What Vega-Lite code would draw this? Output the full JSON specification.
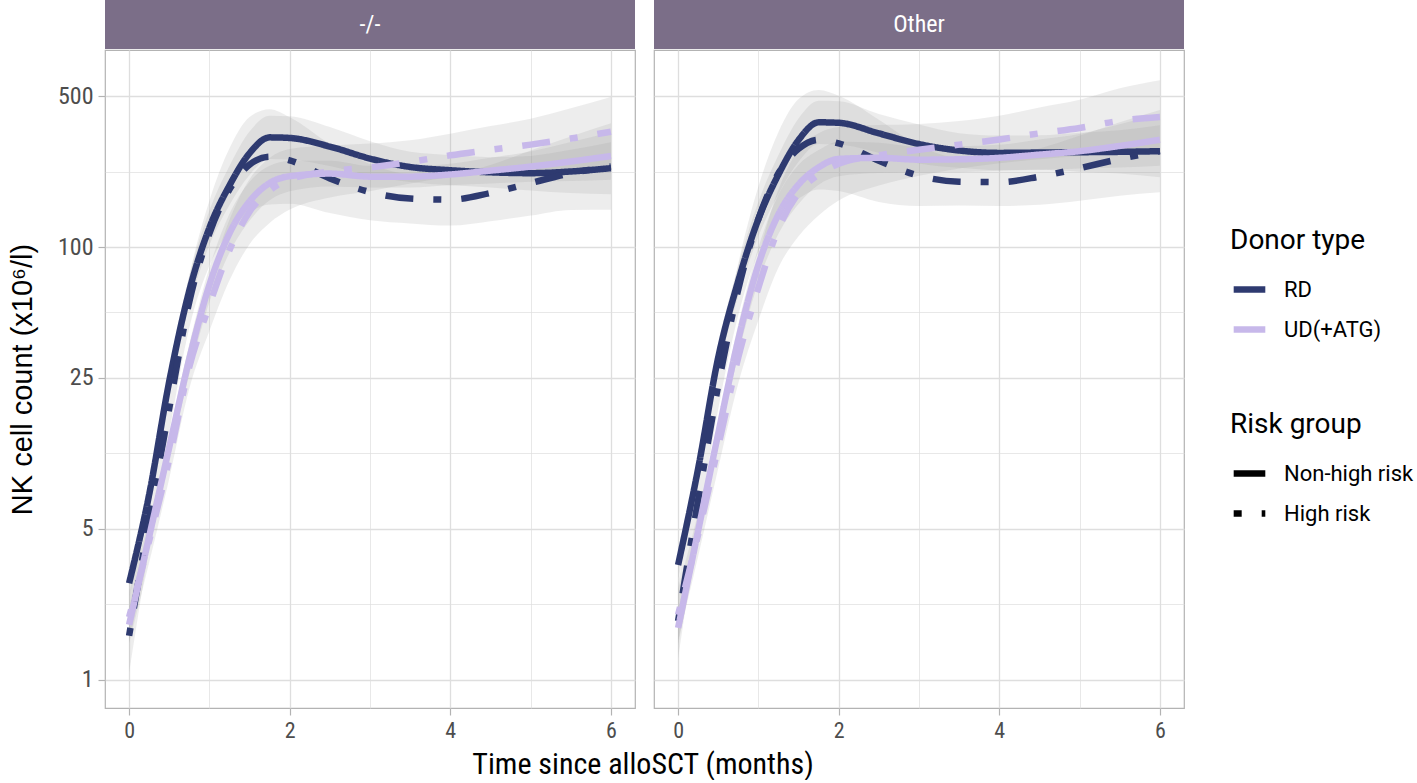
{
  "$schema": "https://vega.github.io/schema/vega-lite/v6.json",
  "background": "white",
  "padding": {"left": 7, "top": 0, "right": 0, "bottom": 0},
  "title": {
    "text": "Time since alloSCT (months)",
    "orient": "bottom",
    "anchor": "middle",
    "frame": "group",
    "dx": 538,
    "font": "Roboto Condensed, Roboto",
    "fontSize": 30,
    "fontWeight": "normal",
    "color": "black",
    "offset": 8
  },
  "datasets": {
    "nk": [
      {"panel": "-/-", "donor": "RD", "risk": "Non-high risk", "t": 0, "y": 2.8, "lo": 2.38, "hi": 3.29},
      {"panel": "-/-", "donor": "RD", "risk": "Non-high risk", "t": 0.25, "y": 7.2, "lo": 6.27, "hi": 8.27},
      {"panel": "-/-", "donor": "RD", "risk": "Non-high risk", "t": 0.5, "y": 24, "lo": 20.9, "hi": 27.6},
      {"panel": "-/-", "donor": "RD", "risk": "Non-high risk", "t": 0.75, "y": 63, "lo": 53.6, "hi": 74},
      {"panel": "-/-", "donor": "RD", "risk": "Non-high risk", "t": 1, "y": 123, "lo": 102.3, "hi": 147.8},
      {"panel": "-/-", "donor": "RD", "risk": "Non-high risk", "t": 1.25, "y": 193, "lo": 156.9, "hi": 237.4},
      {"panel": "-/-", "donor": "RD", "risk": "Non-high risk", "t": 1.5, "y": 272, "lo": 216, "hi": 342.4},
      {"panel": "-/-", "donor": "RD", "risk": "Non-high risk", "t": 1.75, "y": 322, "lo": 255.8, "hi": 405.4},
      {"panel": "-/-", "donor": "RD", "risk": "Non-high risk", "t": 2, "y": 320, "lo": 254.2, "hi": 402.9},
      {"panel": "-/-", "donor": "RD", "risk": "Non-high risk", "t": 2.5, "y": 292, "lo": 237.4, "hi": 359.2},
      {"panel": "-/-", "donor": "RD", "risk": "Non-high risk", "t": 3, "y": 257, "lo": 213.8, "hi": 308.9},
      {"panel": "-/-", "donor": "RD", "risk": "Non-high risk", "t": 3.5, "y": 235, "lo": 200, "hi": 276.1},
      {"panel": "-/-", "donor": "RD", "risk": "Non-high risk", "t": 4, "y": 227, "lo": 193.2, "hi": 266.7},
      {"panel": "-/-", "donor": "RD", "risk": "Non-high risk", "t": 4.5, "y": 222, "lo": 188.9, "hi": 260.9},
      {"panel": "-/-", "donor": "RD", "risk": "Non-high risk", "t": 5, "y": 220, "lo": 183, "hi": 264.4},
      {"panel": "-/-", "donor": "RD", "risk": "Non-high risk", "t": 5.5, "y": 224, "lo": 177.9, "hi": 282},
      {"panel": "-/-", "donor": "RD", "risk": "Non-high risk", "t": 6, "y": 232, "lo": 176, "hi": 305.8},

      {"panel": "-/-", "donor": "RD", "risk": "High risk", "t": 0, "y": 1.6, "lo": 1.08, "hi": 2.37},
      {"panel": "-/-", "donor": "RD", "risk": "High risk", "t": 0.25, "y": 5.5, "lo": 4.08, "hi": 7.42},
      {"panel": "-/-", "donor": "RD", "risk": "High risk", "t": 0.5, "y": 18, "lo": 13.98, "hi": 23.2},
      {"panel": "-/-", "donor": "RD", "risk": "High risk", "t": 0.75, "y": 56, "lo": 42.5, "hi": 73.8},
      {"panel": "-/-", "donor": "RD", "risk": "High risk", "t": 1, "y": 116, "lo": 82.1, "hi": 163.9},
      {"panel": "-/-", "donor": "RD", "risk": "High risk", "t": 1.25, "y": 185, "lo": 119.4, "hi": 286.6},
      {"panel": "-/-", "donor": "RD", "risk": "High risk", "t": 1.5, "y": 241, "lo": 145.2, "hi": 400.1},
      {"panel": "-/-", "donor": "RD", "risk": "High risk", "t": 1.75, "y": 262, "lo": 157.8, "hi": 434.9},
      {"panel": "-/-", "donor": "RD", "risk": "High risk", "t": 2, "y": 252, "lo": 159, "hi": 399.4},
      {"panel": "-/-", "donor": "RD", "risk": "High risk", "t": 2.5, "y": 208, "lo": 143.9, "hi": 300.6},
      {"panel": "-/-", "donor": "RD", "risk": "High risk", "t": 3, "y": 180, "lo": 133.4, "hi": 242.8},
      {"panel": "-/-", "donor": "RD", "risk": "High risk", "t": 3.5, "y": 168, "lo": 128.9, "hi": 218.9},
      {"panel": "-/-", "donor": "RD", "risk": "High risk", "t": 4, "y": 166, "lo": 125.9, "hi": 218.8},
      {"panel": "-/-", "donor": "RD", "risk": "High risk", "t": 4.5, "y": 178, "lo": 131.9, "hi": 240.1},
      {"panel": "-/-", "donor": "RD", "risk": "High risk", "t": 5, "y": 198, "lo": 140.1, "hi": 279.8},
      {"panel": "-/-", "donor": "RD", "risk": "High risk", "t": 5.5, "y": 220, "lo": 148.8, "hi": 325.4},
      {"panel": "-/-", "donor": "RD", "risk": "High risk", "t": 6, "y": 236, "lo": 148.9, "hi": 374.1},

      {"panel": "-/-", "donor": "UD(+ATG)", "risk": "Non-high risk", "t": 0, "y": 1.8, "lo": 1.5, "hi": 2.16},
      {"panel": "-/-", "donor": "UD(+ATG)", "risk": "Non-high risk", "t": 0.25, "y": 4.6, "lo": 4.01, "hi": 5.28},
      {"panel": "-/-", "donor": "UD(+ATG)", "risk": "Non-high risk", "t": 0.5, "y": 11.9, "lo": 10.37, "hi": 13.66},
      {"panel": "-/-", "donor": "UD(+ATG)", "risk": "Non-high risk", "t": 0.75, "y": 30.5, "lo": 25.96, "hi": 35.84},
      {"panel": "-/-", "donor": "UD(+ATG)", "risk": "Non-high risk", "t": 1, "y": 67, "lo": 55.7, "hi": 80.5},
      {"panel": "-/-", "donor": "UD(+ATG)", "risk": "Non-high risk", "t": 1.25, "y": 116, "lo": 94.3, "hi": 142.7},
      {"panel": "-/-", "donor": "UD(+ATG)", "risk": "Non-high risk", "t": 1.5, "y": 163, "lo": 132.5, "hi": 200.5},
      {"panel": "-/-", "donor": "UD(+ATG)", "risk": "Non-high risk", "t": 1.75, "y": 198, "lo": 164.7, "hi": 238},
      {"panel": "-/-", "donor": "UD(+ATG)", "risk": "Non-high risk", "t": 2, "y": 213, "lo": 181.3, "hi": 250.3},
      {"panel": "-/-", "donor": "UD(+ATG)", "risk": "Non-high risk", "t": 2.5, "y": 219, "lo": 190.8, "hi": 251.4},
      {"panel": "-/-", "donor": "UD(+ATG)", "risk": "Non-high risk", "t": 3, "y": 212, "lo": 188.9, "hi": 237.9},
      {"panel": "-/-", "donor": "UD(+ATG)", "risk": "Non-high risk", "t": 3.5, "y": 212, "lo": 188.9, "hi": 237.9},
      {"panel": "-/-", "donor": "UD(+ATG)", "risk": "Non-high risk", "t": 4, "y": 217, "lo": 193.4, "hi": 243.5},
      {"panel": "-/-", "donor": "UD(+ATG)", "risk": "Non-high risk", "t": 4.5, "y": 226, "lo": 196.9, "hi": 259.4},
      {"panel": "-/-", "donor": "UD(+ATG)", "risk": "Non-high risk", "t": 5, "y": 236, "lo": 200.9, "hi": 277.3},
      {"panel": "-/-", "donor": "UD(+ATG)", "risk": "Non-high risk", "t": 5.5, "y": 249, "lo": 202.4, "hi": 306.3},
      {"panel": "-/-", "donor": "UD(+ATG)", "risk": "Non-high risk", "t": 6, "y": 264, "lo": 205, "hi": 340},

      {"panel": "-/-", "donor": "UD(+ATG)", "risk": "High risk", "t": 0, "y": 1.95, "lo": 1.48, "hi": 2.57},
      {"panel": "-/-", "donor": "UD(+ATG)", "risk": "High risk", "t": 0.25, "y": 4.4, "lo": 3.49, "hi": 5.54},
      {"panel": "-/-", "donor": "UD(+ATG)", "risk": "High risk", "t": 0.5, "y": 10.5, "lo": 8.54, "hi": 12.92},
      {"panel": "-/-", "donor": "UD(+ATG)", "risk": "High risk", "t": 0.75, "y": 28, "lo": 22.24, "hi": 35.25},
      {"panel": "-/-", "donor": "UD(+ATG)", "risk": "High risk", "t": 1, "y": 54, "lo": 40.97, "hi": 71.17},
      {"panel": "-/-", "donor": "UD(+ATG)", "risk": "High risk", "t": 1.25, "y": 97, "lo": 70.3, "hi": 133.9},
      {"panel": "-/-", "donor": "UD(+ATG)", "risk": "High risk", "t": 1.5, "y": 146, "lo": 103.3, "hi": 206.3},
      {"panel": "-/-", "donor": "UD(+ATG)", "risk": "High risk", "t": 1.75, "y": 183, "lo": 129.5, "hi": 258.6},
      {"panel": "-/-", "donor": "UD(+ATG)", "risk": "High risk", "t": 2, "y": 206, "lo": 149.3, "hi": 284.3},
      {"panel": "-/-", "donor": "UD(+ATG)", "risk": "High risk", "t": 2.5, "y": 224, "lo": 170, "hi": 295.2},
      {"panel": "-/-", "donor": "UD(+ATG)", "risk": "High risk", "t": 3, "y": 234, "lo": 181.7, "hi": 301.4},
      {"panel": "-/-", "donor": "UD(+ATG)", "risk": "High risk", "t": 3.5, "y": 248, "lo": 197, "hi": 312.2},
      {"panel": "-/-", "donor": "UD(+ATG)", "risk": "High risk", "t": 4, "y": 266, "lo": 211.3, "hi": 334.9},
      {"panel": "-/-", "donor": "UD(+ATG)", "risk": "High risk", "t": 4.5, "y": 282, "lo": 218.9, "hi": 363.2},
      {"panel": "-/-", "donor": "UD(+ATG)", "risk": "High risk", "t": 5, "y": 298, "lo": 226.1, "hi": 392.8},
      {"panel": "-/-", "donor": "UD(+ATG)", "risk": "High risk", "t": 5.5, "y": 318, "lo": 230.4, "hi": 438.8},
      {"panel": "-/-", "donor": "UD(+ATG)", "risk": "High risk", "t": 6, "y": 342, "lo": 236.7, "hi": 494.2},

      {"panel": "Other", "donor": "RD", "risk": "Non-high risk", "t": 0, "y": 3.4, "lo": 2.89, "hi": 4},
      {"panel": "Other", "donor": "RD", "risk": "Non-high risk", "t": 0.25, "y": 9.5, "lo": 8.28, "hi": 10.91},
      {"panel": "Other", "donor": "RD", "risk": "Non-high risk", "t": 0.5, "y": 31, "lo": 27, "hi": 35.6},
      {"panel": "Other", "donor": "RD", "risk": "Non-high risk", "t": 0.75, "y": 70, "lo": 59.6, "hi": 82.3},
      {"panel": "Other", "donor": "RD", "risk": "Non-high risk", "t": 1, "y": 135, "lo": 112.3, "hi": 162.3},
      {"panel": "Other", "donor": "RD", "risk": "Non-high risk", "t": 1.25, "y": 217, "lo": 176.4, "hi": 266.9},
      {"panel": "Other", "donor": "RD", "risk": "Non-high risk", "t": 1.5, "y": 313, "lo": 248.6, "hi": 394.1},
      {"panel": "Other", "donor": "RD", "risk": "Non-high risk", "t": 1.75, "y": 378, "lo": 300.2, "hi": 475.9},
      {"panel": "Other", "donor": "RD", "risk": "Non-high risk", "t": 2, "y": 376, "lo": 298.6, "hi": 473.4},
      {"panel": "Other", "donor": "RD", "risk": "Non-high risk", "t": 2.5, "y": 336, "lo": 273.2, "hi": 413.3},
      {"panel": "Other", "donor": "RD", "risk": "Non-high risk", "t": 3, "y": 300, "lo": 243.9, "hi": 369},
      {"panel": "Other", "donor": "RD", "risk": "Non-high risk", "t": 3.5, "y": 280, "lo": 232.9, "hi": 336.6},
      {"panel": "Other", "donor": "RD", "risk": "Non-high risk", "t": 4, "y": 273, "lo": 227.1, "hi": 328.1},
      {"panel": "Other", "donor": "RD", "risk": "Non-high risk", "t": 4.5, "y": 274, "lo": 228, "hi": 329.3},
      {"panel": "Other", "donor": "RD", "risk": "Non-high risk", "t": 5, "y": 275, "lo": 223.6, "hi": 338.3},
      {"panel": "Other", "donor": "RD", "risk": "Non-high risk", "t": 5.5, "y": 276, "lo": 219.2, "hi": 347.5},
      {"panel": "Other", "donor": "RD", "risk": "Non-high risk", "t": 6, "y": 278, "lo": 210.9, "hi": 366.4},

      {"panel": "Other", "donor": "RD", "risk": "High risk", "t": 0, "y": 1.87, "lo": 1.26, "hi": 2.77},
      {"panel": "Other", "donor": "RD", "risk": "High risk", "t": 0.25, "y": 6.8, "lo": 5.04, "hi": 9.17},
      {"panel": "Other", "donor": "RD", "risk": "High risk", "t": 0.5, "y": 23, "lo": 17.86, "hi": 29.62},
      {"panel": "Other", "donor": "RD", "risk": "High risk", "t": 0.75, "y": 64, "lo": 48.6, "hi": 84.4},
      {"panel": "Other", "donor": "RD", "risk": "High risk", "t": 1, "y": 135, "lo": 95.5, "hi": 190.8},
      {"panel": "Other", "donor": "RD", "risk": "High risk", "t": 1.25, "y": 220, "lo": 142, "hi": 340.8},
      {"panel": "Other", "donor": "RD", "risk": "High risk", "t": 1.5, "y": 285, "lo": 167.8, "hi": 483.9},
      {"panel": "Other", "donor": "RD", "risk": "High risk", "t": 1.75, "y": 314, "lo": 184.9, "hi": 533.2},
      {"panel": "Other", "donor": "RD", "risk": "High risk", "t": 2, "y": 302, "lo": 181.9, "hi": 501.3},
      {"panel": "Other", "donor": "RD", "risk": "High risk", "t": 2.5, "y": 251, "lo": 162, "hi": 388.8},
      {"panel": "Other", "donor": "RD", "risk": "High risk", "t": 3, "y": 214, "lo": 155.1, "hi": 295.3},
      {"panel": "Other", "donor": "RD", "risk": "High risk", "t": 3.5, "y": 201, "lo": 156.1, "hi": 258.9},
      {"panel": "Other", "donor": "RD", "risk": "High risk", "t": 4, "y": 200, "lo": 155.3, "hi": 257.6},
      {"panel": "Other", "donor": "RD", "risk": "High risk", "t": 4.5, "y": 212, "lo": 157.2, "hi": 286},
      {"panel": "Other", "donor": "RD", "risk": "High risk", "t": 5, "y": 232, "lo": 164.2, "hi": 327.8},
      {"panel": "Other", "donor": "RD", "risk": "High risk", "t": 5.5, "y": 256, "lo": 173.1, "hi": 378.6},
      {"panel": "Other", "donor": "RD", "risk": "High risk", "t": 6, "y": 278, "lo": 179.5, "hi": 430.6},

      {"panel": "Other", "donor": "UD(+ATG)", "risk": "Non-high risk", "t": 0, "y": 1.74, "lo": 1.45, "hi": 2.09},
      {"panel": "Other", "donor": "UD(+ATG)", "risk": "Non-high risk", "t": 0.25, "y": 4.9, "lo": 4.27, "hi": 5.63},
      {"panel": "Other", "donor": "UD(+ATG)", "risk": "Non-high risk", "t": 0.5, "y": 13.8, "lo": 12.02, "hi": 15.84},
      {"panel": "Other", "donor": "UD(+ATG)", "risk": "Non-high risk", "t": 0.75, "y": 37.5, "lo": 31.9, "hi": 44.1},
      {"panel": "Other", "donor": "UD(+ATG)", "risk": "Non-high risk", "t": 1, "y": 83, "lo": 69.1, "hi": 99.8},
      {"panel": "Other", "donor": "UD(+ATG)", "risk": "Non-high risk", "t": 1.25, "y": 142, "lo": 115.4, "hi": 174.7},
      {"panel": "Other", "donor": "UD(+ATG)", "risk": "Non-high risk", "t": 1.5, "y": 195, "lo": 158.5, "hi": 239.9},
      {"panel": "Other", "donor": "UD(+ATG)", "risk": "Non-high risk", "t": 1.75, "y": 234, "lo": 194.7, "hi": 281.3},
      {"panel": "Other", "donor": "UD(+ATG)", "risk": "Non-high risk", "t": 2, "y": 256, "lo": 213, "hi": 307.7},
      {"panel": "Other", "donor": "UD(+ATG)", "risk": "Non-high risk", "t": 2.5, "y": 259, "lo": 220.4, "hi": 304.3},
      {"panel": "Other", "donor": "UD(+ATG)", "risk": "Non-high risk", "t": 3, "y": 254, "lo": 221.3, "hi": 291.6},
      {"panel": "Other", "donor": "UD(+ATG)", "risk": "Non-high risk", "t": 3.5, "y": 255, "lo": 222.1, "hi": 292.7},
      {"panel": "Other", "donor": "UD(+ATG)", "risk": "Non-high risk", "t": 4, "y": 259, "lo": 225.6, "hi": 297.3},
      {"panel": "Other", "donor": "UD(+ATG)", "risk": "Non-high risk", "t": 4.5, "y": 268, "lo": 228.1, "hi": 314.9},
      {"panel": "Other", "donor": "UD(+ATG)", "risk": "Non-high risk", "t": 5, "y": 278, "lo": 231.3, "hi": 334.2},
      {"panel": "Other", "donor": "UD(+ATG)", "risk": "Non-high risk", "t": 5.5, "y": 294, "lo": 233.5, "hi": 370.1},
      {"panel": "Other", "donor": "UD(+ATG)", "risk": "Non-high risk", "t": 6, "y": 314, "lo": 238.2, "hi": 413.9},

      {"panel": "Other", "donor": "UD(+ATG)", "risk": "High risk", "t": 0, "y": 2, "lo": 1.52, "hi": 2.64},
      {"panel": "Other", "donor": "UD(+ATG)", "risk": "High risk", "t": 0.25, "y": 4.7, "lo": 3.73, "hi": 5.92},
      {"panel": "Other", "donor": "UD(+ATG)", "risk": "High risk", "t": 0.5, "y": 12, "lo": 9.53, "hi": 15.11},
      {"panel": "Other", "donor": "UD(+ATG)", "risk": "High risk", "t": 0.75, "y": 31, "lo": 23.5, "hi": 40.9},
      {"panel": "Other", "donor": "UD(+ATG)", "risk": "High risk", "t": 1, "y": 65, "lo": 46, "hi": 91.8},
      {"panel": "Other", "donor": "UD(+ATG)", "risk": "High risk", "t": 1.25, "y": 122, "lo": 80.6, "hi": 184.7},
      {"panel": "Other", "donor": "UD(+ATG)", "risk": "High risk", "t": 1.5, "y": 178, "lo": 112.3, "hi": 282.1},
      {"panel": "Other", "donor": "UD(+ATG)", "risk": "High risk", "t": 1.75, "y": 217, "lo": 140.1, "hi": 336.1},
      {"panel": "Other", "donor": "UD(+ATG)", "risk": "High risk", "t": 2, "y": 243, "lo": 164.3, "hi": 359.4},
      {"panel": "Other", "donor": "UD(+ATG)", "risk": "High risk", "t": 2.5, "y": 266, "lo": 192.8, "hi": 367.1},
      {"panel": "Other", "donor": "UD(+ATG)", "risk": "High risk", "t": 3, "y": 282, "lo": 214, "hi": 371.7},
      {"panel": "Other", "donor": "UD(+ATG)", "risk": "High risk", "t": 3.5, "y": 298, "lo": 231.4, "hi": 383.8},
      {"panel": "Other", "donor": "UD(+ATG)", "risk": "High risk", "t": 4, "y": 315, "lo": 244.6, "hi": 405.7},
      {"panel": "Other", "donor": "UD(+ATG)", "risk": "High risk", "t": 4.5, "y": 336, "lo": 254.9, "hi": 442.8},
      {"panel": "Other", "donor": "UD(+ATG)", "risk": "High risk", "t": 5, "y": 356, "lo": 263.9, "hi": 480.2},
      {"panel": "Other", "donor": "UD(+ATG)", "risk": "High risk", "t": 5.5, "y": 384, "lo": 271.8, "hi": 542.6},
      {"panel": "Other", "donor": "UD(+ATG)", "risk": "High risk", "t": 6, "y": 400, "lo": 270.5, "hi": 591.6}
    ]
  },
  "spacing": 17,
  "hconcat": [
    {
      "spacing": 0,
      "vconcat": [
        {
          "width": 530,
          "height": 49,
          "view": {"fill": "#7B6E88", "stroke": null},
          "data": {"values": [{"panel": "-/-"}]},
          "mark": {"type": "text", "color": "white", "font": "Roboto Condensed, Roboto", "fontSize": 24},
          "encoding": {"text": {"field": "panel"}}
        },
        {
          "width": 530,
          "height": 658,
          "data": {"name": "nk"},
          "transform": [{"filter": "datum.panel == '-/-'"}],
          "encoding": {
            "x": {
              "field": "t",
              "type": "quantitative",
              "scale": {"domain": [-0.3, 6.3], "nice": false, "zero": false},
              "axis": {
                "title": null,
                "values": [0, 1, 2, 3, 4, 5, 6],
                "labelExpr": "datum.value % 2 == 0 ? datum.label : ''",
                "tickOpacity": {"condition": {"test": "datum.value % 2 == 1", "value": 0}, "value": 1},
                "gridWidth": {"condition": {"test": "datum.value % 2 == 1", "value": 0.7}, "value": 1.3}
              }
            }
          },
          "layer": [
            {
              "mark": {"type": "area", "color": "#999999", "opacity": 0.18, "interpolate": "monotone"},
              "encoding": {
                "y": {
                  "field": "lo",
                  "type": "quantitative",
                  "scale": {"type": "log", "domain": [0.742, 816], "nice": false, "zero": false},
                  "axis": {
                    "title": "NK cell count (x10⁶/l)",
                    "titleFont": "Liberation Sans, Arial, sans-serif",
                    "titleFontSize": 29,
                    "titlePadding": 20,
                    "values": [1, 2.2360679775, 5, 11.1803398875, 25, 50, 100, 223.60679775, 500],
                    "labelExpr": "indexof([1, 5, 25, 100, 500], datum.value) >= 0 ? format(datum.value, 'd') : ''",
                    "tickOpacity": {"condition": {"test": "indexof([1, 5, 25, 100, 500], datum.value) < 0", "value": 0}, "value": 1},
                    "gridWidth": {"condition": {"test": "indexof([1, 5, 25, 100, 500], datum.value) < 0", "value": 0.7}, "value": 1.3}
                  }
                },
                "y2": {"field": "hi"},
                "detail": [{"field": "donor"}, {"field": "risk"}]
              }
            },
            {
              "mark": {"type": "line", "strokeWidth": 6.5, "strokeCap": "butt", "interpolate": "monotone"},
              "encoding": {
                "y": {"field": "y", "type": "quantitative"},
                "color": {
                  "field": "donor",
                  "type": "nominal",
                  "scale": {"domain": ["RD", "UD(+ATG)"], "range": ["#2E3A70", "#C7B8EA"]},
                  "legend": {"title": "Donor type", "orient": "none", "legendX": 1125, "legendY": 227}
                },
                "strokeDash": {
                  "field": "risk",
                  "type": "nominal",
                  "scale": {"domain": ["Non-high risk", "High risk"], "range": [[1, 0], [8, 20, 28, 20]]},
                  "legend": {"title": "Risk group", "orient": "none", "legendX": 1125, "legendY": 411, "symbolStrokeColor": "black"}
                }
              }
            }
          ]
        }
      ]
    },
    {
      "spacing": 0,
      "vconcat": [
        {
          "width": 530,
          "height": 49,
          "view": {"fill": "#7B6E88", "stroke": null},
          "data": {"values": [{"panel": "Other"}]},
          "mark": {"type": "text", "color": "white", "font": "Roboto Condensed, Roboto", "fontSize": 24},
          "encoding": {"text": {"field": "panel"}}
        },
        {
          "width": 530,
          "height": 658,
          "data": {"name": "nk"},
          "transform": [{"filter": "datum.panel == 'Other'"}],
          "encoding": {
            "x": {
              "field": "t",
              "type": "quantitative",
              "scale": {"domain": [-0.3, 6.3], "nice": false, "zero": false},
              "axis": {
                "title": null,
                "values": [0, 1, 2, 3, 4, 5, 6],
                "labelExpr": "datum.value % 2 == 0 ? datum.label : ''",
                "tickOpacity": {"condition": {"test": "datum.value % 2 == 1", "value": 0}, "value": 1},
                "gridWidth": {"condition": {"test": "datum.value % 2 == 1", "value": 0.7}, "value": 1.3}
              }
            }
          },
          "layer": [
            {
              "mark": {"type": "area", "color": "#999999", "opacity": 0.18, "interpolate": "monotone"},
              "encoding": {
                "y": {
                  "field": "lo",
                  "type": "quantitative",
                  "scale": {"type": "log", "domain": [0.742, 816], "nice": false, "zero": false},
                  "axis": {
                    "title": null,
                    "labels": false,
                    "ticks": false,
                    "values": [1, 2.2360679775, 5, 11.1803398875, 25, 50, 100, 223.60679775, 500],
                    "gridWidth": {"condition": {"test": "indexof([1, 5, 25, 100, 500], datum.value) < 0", "value": 0.7}, "value": 1.3}
                  }
                },
                "y2": {"field": "hi"},
                "detail": [{"field": "donor"}, {"field": "risk"}]
              }
            },
            {
              "mark": {"type": "line", "strokeWidth": 6.5, "strokeCap": "butt", "interpolate": "monotone"},
              "encoding": {
                "y": {"field": "y", "type": "quantitative"},
                "color": {
                  "field": "donor",
                  "type": "nominal",
                  "scale": {"domain": ["RD", "UD(+ATG)"], "range": ["#2E3A70", "#C7B8EA"]},
                  "legend": {"title": "Donor type", "orient": "none", "legendX": 1125, "legendY": 227}
                },
                "strokeDash": {
                  "field": "risk",
                  "type": "nominal",
                  "scale": {"domain": ["Non-high risk", "High risk"], "range": [[1, 0], [8, 20, 28, 20]]},
                  "legend": {"title": "Risk group", "orient": "none", "legendX": 1125, "legendY": 411, "symbolStrokeColor": "black"}
                }
              }
            }
          ]
        }
      ]
    }
  ],
  "config": {
    "font": "Roboto",
    "view": {"stroke": "#B3B3B3", "strokeWidth": 1.2},
    "axis": {
      "domain": false,
      "grid": true,
      "gridColor": "#DEDEDE",
      "tickColor": "#B3B3B3",
      "tickSize": 7,
      "tickWidth": 1.2,
      "labelColor": "#4D4D4D",
      "labelFont": "Roboto Condensed, Roboto",
      "labelFontSize": 24,
      "labelPadding": 5,
      "titleFont": "Roboto",
      "titleFontWeight": "normal",
      "titleColor": "black"
    },
    "axisX": {"labelPadding": 5, "labelFontSize": 22},
    "legend": {
      "symbolType": "stroke",
      "symbolStrokeWidth": 6.5,
      "symbolSize": 1000,
      "symbolOpacity": 1,
      "labelFont": "Roboto",
      "labelFontSize": 22,
      "labelColor": "black",
      "labelOffset": 15,
      "titleFont": "Roboto",
      "titleFontSize": 28,
      "titleFontWeight": "normal",
      "titleColor": "black",
      "titlePadding": 15,
      "rowPadding": 7,
      "padding": 0
    }
  }
}
